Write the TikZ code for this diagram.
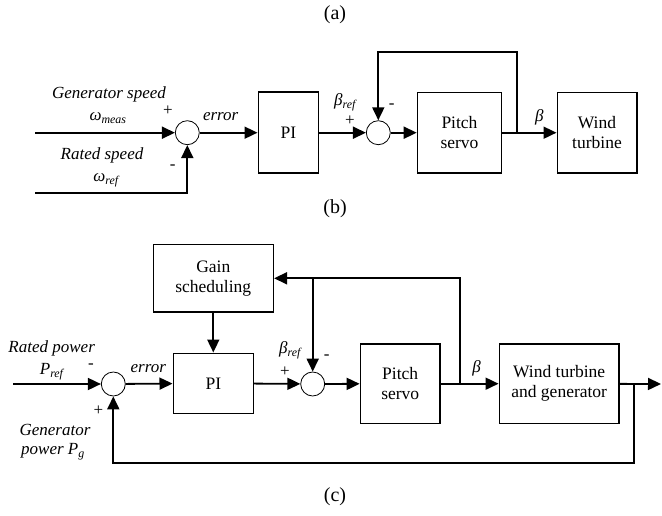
\documentclass[tikz,border=0pt]{standalone}
\usepackage{fontspec}
\setmainfont{Liberation Serif}
\usetikzlibrary{arrows.meta}
\tikzset{
  blk/.style={draw, line width=1.6pt, align=center, inner sep=0pt, font=\fontsize{17.5}{20}\selectfont},
  sumc/.style={draw, circle, line width=0.8pt, minimum size=24pt, inner sep=0pt},
  arr/.style={line width=1.8pt, -{Triangle[length=13pt,width=12pt]}},
  ln/.style={line width=1.8pt},
  lbl/.style={inner sep=0pt, font=\fontsize{17}{20}\selectfont\itshape},
  sgn/.style={inner sep=0pt, font=\fontsize{17}{18}\selectfont},
  ttl/.style={inner sep=0pt, font=\fontsize{20}{22}\selectfont},
}
\begin{document}
\begin{tikzpicture}[x=1pt,y=-1pt]
\useasboundingbox (0,0) rectangle (662,516);
% titles
\node[ttl] (ta) at (335,15) {(a)};
\node[ttl] (tb) at (335,208.3) {(b)};
\node[ttl] (tc) at (335,497) {(c)};

% ---------- (b) ----------
\node[sumc] (s1b) at (187.3,132.7) {};
\node[blk, minimum width=60pt, minimum height=81pt] (pib) at (288.3,132.7) {PI};
\node[sumc] (s2b) at (378.3,132.7) {};
\node[blk, minimum width=84pt, minimum height=80.6pt] (psb) at (459.5,132.7) {Pitch\\servo};
\node[blk, minimum width=79.4pt, minimum height=80.6pt] (wtb) at (597,132.7) {Wind\\turbine};
\coordinate (inb) at (35,132.7);
\coordinate (rb) at (35,192.7);
\coordinate (brb) at (517.3,132.7);
\coordinate (topb) at (517.3,52.3);
\draw[arr] (inb) -- (s1b.west);
\draw[arr] (rb) -| (s1b.south);
\draw[arr] (s1b) -- (pib);
\draw[arr] (pib) -- (s2b);
\draw[arr] (s2b) -- (psb);
\draw[arr] (psb) -- (wtb);
\draw[arr] (brb) -- (topb) -| (s2b.north);
\node[lbl] (lgs) at (109,94.3) {Generator speed};
\node[lbl] (lwm) at (108,118) {ω\textsubscript{meas}};
\node[lbl] (lrs) at (102,155) {Rated speed};
\node[lbl] (lwr) at (106,180) {ω\textsubscript{ref}};
\node[sgn] (p1b) at (168,111) {+};
\node[sgn] (m1b) at (172.7,166.7) {-};
\node[lbl] (leb) at (220.7,117) {error};
\node[lbl] (lbrb) at (345,102.5) {β\textsubscript{ref}};
\node[sgn] (p2b) at (350,121) {+};
\node[sgn] (m2b) at (391.7,106) {-};
\node[lbl] (lbb) at (539.3,117.3) {β};

% ---------- (c) ----------
\node[blk, minimum width=120pt, minimum height=67.7pt] (gs) at (213.3,278.3) {Gain\\scheduling};
\node[sumc] (s1c) at (113.3,384) {};
\node[blk, minimum width=80pt, minimum height=60pt] (pic) at (213.3,383.3) {PI};
\node[sumc] (s2c) at (312.7,384) {};
\node[blk, minimum width=79.5pt, minimum height=79.3pt] (psc) at (400.2,383.7) {Pitch\\servo};
\node[blk, minimum width=119.7pt, minimum height=79.3pt] (wtc) at (559.2,383.7) {Wind turbine\\and generator};
\coordinate (inc) at (13.3,384);
\coordinate (outc) at (661,384);
\coordinate (brc) at (460,384);
\coordinate (topc) at (460,278.3);
\coordinate (jc) at (312.7,278.3);
\coordinate (fbc) at (634.3,384);
\coordinate (botc) at (634.3,462.7);
\draw[arr] (inc) -- (s1c.west);
\draw[arr] (s1c) -- (pic);
\draw[arr] (pic) -- (s2c);
\draw[arr] (s2c) -- (psc);
\draw[arr] (psc) -- (wtc);
\draw[arr] (wtc) -- (outc);
\draw[arr] (gs) -- (pic);
\draw[arr] (brc) -- (topc) -- (gs.east);
\draw[arr] (jc) -- (s2c.north);
\draw[arr] (fbc) -- (botc) -| (s1c.south);
\node[lbl] (lrp) at (51.7,348.3) {Rated power};
\node[lbl] (lpr) at (51.7,371.7) {P\textsubscript{ref}};
\node[sgn] (m1c) at (91,365.7) {-};
\node[lbl] (lec) at (148.3,369) {error};
\node[sgn] (p1c) at (98.3,411) {+};
\node[lbl] (lgp1) at (55,430) {Generator};
\node[lbl] (lgp2) at (53,451.7) {power P\textsubscript{g}};
\node[lbl] (lbrc) at (290,350.5) {β\textsubscript{ref}};
\node[sgn] (p2c) at (285,372) {+};
\node[sgn] (m2c) at (326.7,356.7) {-};
\node[lbl] (lbc) at (476.7,368.3) {β};
\end{tikzpicture}
\end{document}
